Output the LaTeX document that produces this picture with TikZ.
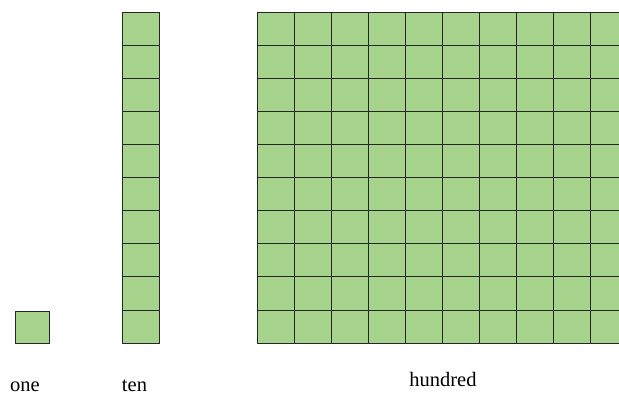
\documentclass[tikz,border=0pt]{standalone}
\usepackage{fontspec}
\setmainfont{Liberation Serif}
\definecolor{blockgreen}{RGB}{166,212,141}
\tikzset{
  cell/.style={fill=blockgreen,draw=black!85,line width=0.75pt},
  lbl/.style={anchor=base,inner sep=0pt,font=\fontsize{20.5}{24}\selectfont}
}
\begin{document}
\begin{tikzpicture}[x=1pt,y=-1pt]
 \clip (0,0) rectangle (619,394);
 % one
 \draw[cell] (15,311) rectangle (49,343);
 % ten
 \foreach \i in {0,...,9}
  \draw[cell] (122,{12+33.1*\i}) rectangle ++(37,33.1);
 % hundred
 \foreach \i in {0,...,9}
  \foreach \j in {0,...,9}
   \draw[cell] ({257+37*\j},{12+33.1*\i}) rectangle ++(37,33.1);
 \node[lbl] (one) at (25,391) {one};
 \node[lbl] (ten) at (134.5,391) {ten};
 \node[lbl] (hundred) at (443,386) {hundred};
\end{tikzpicture}
\end{document}
